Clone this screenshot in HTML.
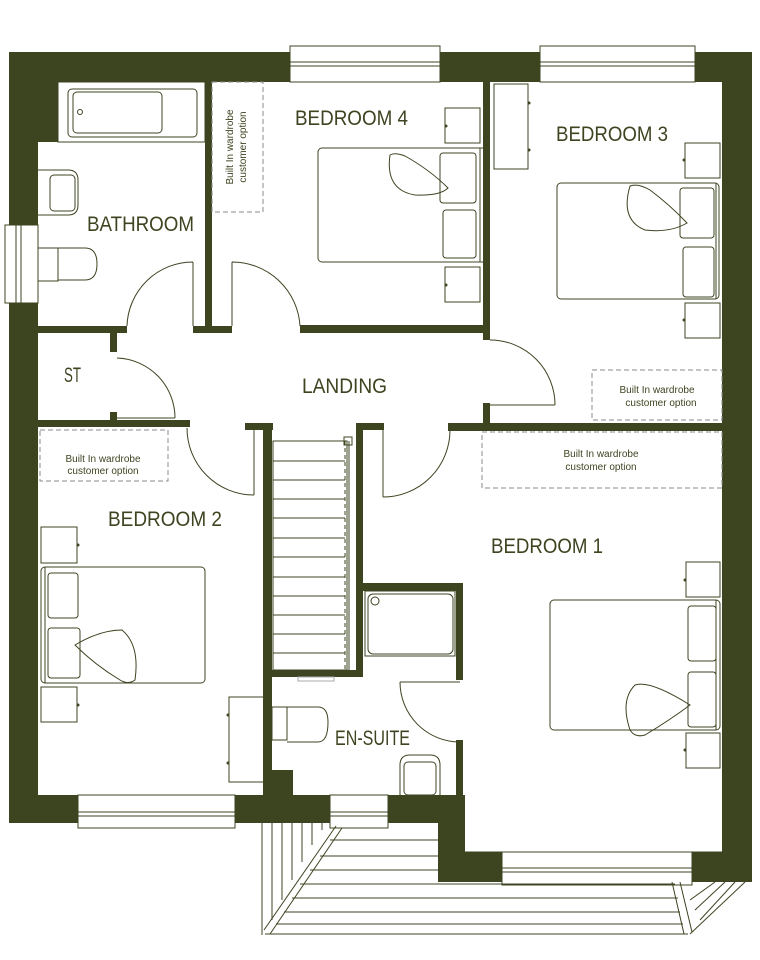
<!DOCTYPE html>
<html><head><meta charset="utf-8"><style>
html,body{margin:0;padding:0;background:#fff;}
svg{display:block;}
text{font-family:"Liberation Sans",sans-serif;fill:#3d4420;}
.l{font-size:21px;}
.s{font-size:10px;}
</style></head><body>
<svg width="760" height="960" viewBox="0 0 760 960" xmlns="http://www.w3.org/2000/svg">
<g fill="#3d4420">
<rect x="9" y="52" width="281" height="30"/>
<rect x="9" y="52" width="49" height="90"/>
<rect x="9" y="52" width="29" height="173"/>
<rect x="9" y="303" width="29" height="520"/>
<rect x="440" y="52" width="100" height="30"/>
<rect x="695" y="52" width="57" height="30"/>
<rect x="722" y="52" width="30" height="830"/>
<rect x="9" y="795" width="69" height="28"/>
<rect x="235" y="795" width="95" height="28"/>
<rect x="388" y="795" width="77" height="28"/>
<rect x="438" y="795" width="27" height="87"/>
<rect x="438" y="852" width="64" height="30"/>
<rect x="692" y="852" width="60" height="30"/>
<rect x="205" y="82" width="7" height="251"/>
<rect x="38" y="326" width="89" height="7"/>
<rect x="193" y="326" width="39" height="7"/>
<rect x="300" y="325" width="190" height="8"/>
<rect x="483" y="82" width="7" height="258"/>
<rect x="483" y="403" width="7" height="27"/>
<rect x="448" y="423" width="274" height="8"/>
<rect x="110" y="330" width="7" height="22"/>
<rect x="110" y="412" width="7" height="12"/>
<rect x="38" y="420" width="152" height="7"/>
<rect x="245" y="423" width="28" height="7"/>
<rect x="263" y="423" width="9" height="372"/>
<rect x="356" y="423" width="28" height="7"/>
<rect x="356" y="423" width="7" height="253"/>
<rect x="263" y="670" width="100" height="7"/>
<rect x="356" y="583" width="107" height="8"/>
<rect x="456" y="583" width="7" height="97"/>
<rect x="456" y="740" width="7" height="58"/>
<rect x="263" y="770" width="30" height="28"/>
</g>
<g fill="none" stroke="#3d4420" stroke-width="1">
<rect x="290" y="46" width="150" height="36"/><line x1="290" y1="62" x2="440" y2="62"/><line x1="290" y1="66" x2="440" y2="66"/>
<rect x="540" y="46" width="155" height="36"/><line x1="540" y1="62" x2="695" y2="62"/><line x1="540" y1="66" x2="695" y2="66"/>
<rect x="5" y="225" width="33" height="78"/><line x1="16" y1="225" x2="16" y2="303"/><line x1="21" y1="225" x2="21" y2="303"/>
<rect x="78" y="795" width="157" height="33"/><line x1="78" y1="812" x2="235" y2="812"/><line x1="78" y1="816" x2="235" y2="816"/>
<rect x="330" y="795" width="58" height="33"/><line x1="330" y1="812" x2="388" y2="812"/><line x1="330" y1="816" x2="388" y2="816"/>
<rect x="502" y="852" width="190" height="33"/><line x1="502" y1="868" x2="692" y2="868"/><line x1="502" y1="872" x2="692" y2="872"/>
<line x1="465" y1="852" x2="722" y2="852"/>
<line x1="262" y1="823" x2="262" y2="935"/><line x1="272" y1="823" x2="272" y2="920"/><line x1="282" y1="823" x2="282" y2="900"/><line x1="292" y1="823" x2="292" y2="880"/><line x1="302" y1="823" x2="302" y2="862"/><line x1="312" y1="823" x2="312" y2="845"/><line x1="322" y1="823" x2="322" y2="830"/>
<path d="M336 826 L264 930 M342 828 L270 934" />
<line x1="265" y1="934" x2="688" y2="934"/>
<line x1="330" y1="840" x2="438" y2="840"/><line x1="320" y1="856" x2="438" y2="856"/><line x1="310" y1="870" x2="438" y2="870"/>
<line x1="300" y1="884" x2="675" y2="884"/><line x1="292" y1="898" x2="678" y2="898"/><line x1="284" y1="912" x2="680" y2="912"/><line x1="276" y1="924" x2="683" y2="924"/>
<path d="M672 882 L684 934 M680 882 L692 932 M745 882 L690 934 M735 882 L700 920 M725 882 L695 910 M715 882 L690 900"/>
<path d="M193 262 V326 M193 262 A66 66 0 0 0 127 326"/>
<path d="M232 262 V326 M232 262 A68 68 0 0 1 300 326"/>
<path d="M490 405 H555 M555 405 A65 65 0 0 0 490 340"/>
<path d="M117 418 H175 M175 418 A60 60 0 0 0 117 358"/>
<path d="M254 430 V495 M254 495 A67 67 0 0 1 187 428"/>
<path d="M383 430 V497 M383 497 A67 67 0 0 0 450 430"/>
<path d="M400 682 H460 M400 682 A60 60 0 0 0 460 742"/>
<rect x="273" y="441" width="74" height="229"/>
<line x1="345" y1="441" x2="345" y2="670" stroke-dasharray="4 3"/><line x1="349" y1="441" x2="349" y2="670"/>
<rect x="344" y="437" width="8" height="8"/>
<path d="M273 461H345M273 480H345M273 499H345M273 518H345M273 538H345M273 557H345M273 577H345M273 596H345M273 615H345M273 634H345M273 653H345"/>
<rect x="298" y="677" width="36" height="4" stroke="#aaa"/>
<rect x="58" y="82" width="147" height="60"/>
<rect x="68" y="89" width="129" height="48" rx="4"/>
<rect x="73" y="92" width="89" height="41" rx="4"/>
<circle cx="80" cy="112" r="2.5"/>
<path d="M38 170 H68 Q78 170 78 180 V205 Q78 215 68 215 H38"/>
<rect x="50" y="175" width="25" height="36" rx="4"/>
<rect x="38" y="248" width="20" height="33"/>
<path d="M58 248 H85 Q97 248 97 264 Q97 280 85 280 H58"/>
<rect x="365" y="591" width="90" height="65"/><rect x="368" y="594" width="85" height="60" rx="5"/><circle cx="375" cy="601" r="4"/>
<rect x="272" y="707" width="15" height="33"/>
<path d="M287 707 H318 Q328 707 328 722 Q328 742 318 742 H287"/>
<path d="M400 795 V765 Q400 755 410 755 H430 Q440 755 440 765 V795"/><rect x="404" y="762" width="32" height="33" rx="4"/>
<g stroke="#888" stroke-dasharray="5 3">
<rect x="212" y="82" width="51" height="130"/>
<rect x="592" y="370" width="130" height="50"/>
<rect x="482" y="432" width="240" height="56"/>
<rect x="40" y="430" width="128" height="51"/>
</g>
<rect x="445" y="108" width="35" height="35"/><rect x="445" y="267" width="35" height="35"/>
<rect x="318" y="148" width="169" height="114" rx="4"/>
<line x1="480" y1="148" x2="480" y2="262"/>
<rect x="440" y="153" width="36" height="50" rx="3"/><rect x="443" y="210" width="33" height="48" rx="3"/>
<path d="M390 155 Q385 190 415 195 Q440 196 448 188 Q430 170 405 156 Q395 152 390 155Z"/>
<rect x="494" y="84" width="34" height="85"/>
<rect x="685" y="143" width="35" height="35"/><rect x="685" y="303" width="35" height="35"/>
<rect x="557" y="183" width="162" height="116" rx="4"/>
<line x1="716" y1="183" x2="716" y2="299"/>
<rect x="680" y="188" width="34" height="50" rx="3"/><rect x="683" y="247" width="31" height="50" rx="3"/>
<path d="M630 186 Q620 220 645 230 Q670 233 687 223 Q670 205 650 190 Q638 183 630 186Z"/>
<rect x="686" y="562" width="34" height="35"/><rect x="686" y="733" width="34" height="35"/>
<rect x="550" y="600" width="170" height="130" rx="4"/>
<line x1="716" y1="600" x2="716" y2="730"/>
<rect x="688" y="606" width="28" height="55" rx="3"/><rect x="688" y="672" width="28" height="55" rx="3"/>
<path d="M630 730 Q620 700 635 685 Q650 680 690 705 Q670 720 645 735 Q635 738 630 730Z"/>
<rect x="41" y="527" width="36" height="36"/><rect x="41" y="687" width="36" height="35"/>
<rect x="41" y="567" width="164" height="116" rx="4"/>
<line x1="45" y1="567" x2="45" y2="683"/>
<rect x="48" y="573" width="30" height="45" rx="3"/><rect x="48" y="628" width="32" height="50" rx="3"/>
<path d="M75 645 Q100 630 122 630 Q140 645 135 680 Q128 685 120 680 Q95 665 75 645Z"/>
<rect x="229" y="697" width="35" height="85"/>
</g>
<g fill="#3d4420">
<circle cx="47" cy="90" r="3"/>
<circle cx="446" cy="126" r="1.5"/><circle cx="446" cy="285" r="1.5"/>
<circle cx="529" cy="103" r="1.5"/><circle cx="529" cy="150" r="1.5"/>
<circle cx="684" cy="160" r="1.5"/><circle cx="684" cy="320" r="1.5"/>
<circle cx="78" cy="545" r="1.5"/><circle cx="78" cy="705" r="1.5"/>
<circle cx="228" cy="715" r="1.5"/><circle cx="228" cy="763" r="1.5"/>
<circle cx="685" cy="580" r="1.5"/><circle cx="685" cy="750" r="1.5"/>
</g>
<g>
<text class="l" x="87" y="231" textLength="107" lengthAdjust="spacingAndGlyphs">BATHROOM</text>
<text class="l" x="295" y="125" textLength="113" lengthAdjust="spacingAndGlyphs">BEDROOM 4</text>
<text class="l" x="556" y="141" textLength="112" lengthAdjust="spacingAndGlyphs">BEDROOM 3</text>
<text class="l" x="302" y="393" textLength="85" lengthAdjust="spacingAndGlyphs">LANDING</text>
<text class="l" x="64" y="382" textLength="17" lengthAdjust="spacingAndGlyphs">ST</text>
<text class="l" x="108" y="526" textLength="114" lengthAdjust="spacingAndGlyphs">BEDROOM 2</text>
<text class="l" x="491" y="553" textLength="112" lengthAdjust="spacingAndGlyphs">BEDROOM 1</text>
<text class="l" x="335" y="745" textLength="75" lengthAdjust="spacingAndGlyphs">EN-SUITE</text>
<g class="s" text-anchor="middle">
<text x="657" y="393">Built In wardrobe</text><text x="661" y="406">customer option</text>
<text x="601" y="457">Built In wardrobe</text><text x="601" y="470">customer option</text>
<text x="103" y="462">Built In wardrobe</text><text x="103" y="474">customer option</text>
<text transform="translate(233,147) rotate(-90)">Built In wardrobe</text>
<text transform="translate(246,147) rotate(-90)">customer option</text>
</g>
</g>
</svg>
</body></html>
